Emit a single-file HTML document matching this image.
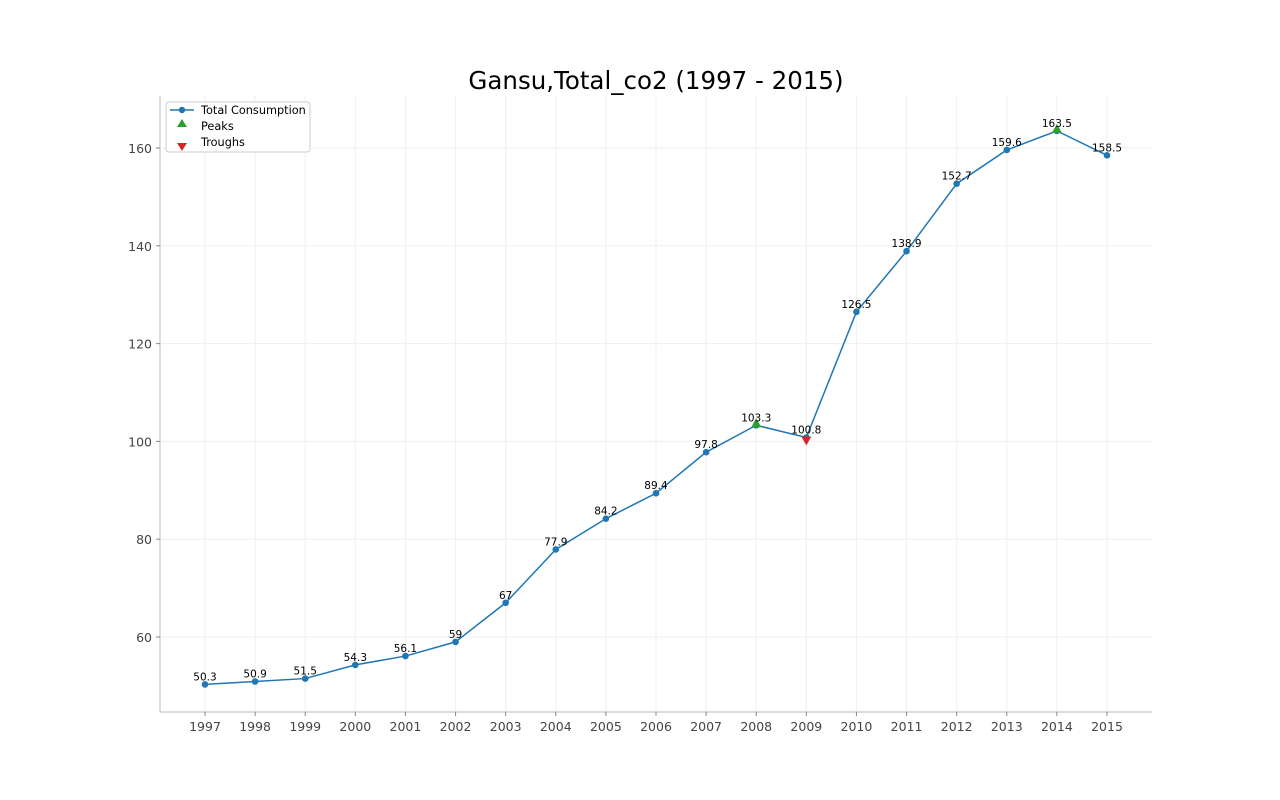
<!DOCTYPE html>
<html><head><meta charset="utf-8"><style>
body{margin:0;background:#fff;}
svg{display:block;font-family:"DejaVu Sans","Liberation Sans",sans-serif;}
</style></head><body>
<svg id="chart" width="1280" height="800">
<text x="656" y="89" text-anchor="middle" font-size="24.5" fill="#000">Gansu,Total_co2 (1997 - 2015)</text>
<g id="grid"></g>
<line x1="160" y1="96" x2="160" y2="712" stroke="#bbb"/>
<line x1="160" y1="712" x2="1152" y2="712" stroke="#bbb"/>
<g id="ticks"></g>
<g id="series"></g>
<g>
<rect x="166" y="102" width="144" height="50" rx="3" fill="#fff" stroke="#ccc"/>
<line x1="170" y1="110" x2="194" y2="110" stroke="#1f77b4" stroke-width="1.5"/>
<circle cx="182" cy="110" r="3.2" fill="#1f77b4"/>
<text x="201" y="114" font-size="11.3">Total Consumption</text>
<polygon points="182,119 187,127 177,127" fill="#2ca02c"/>
<text x="201" y="130" font-size="11.3">Peaks</text>
<polygon points="177,143 187,143 182,151" fill="#d62728"/>
<text x="201" y="146" font-size="11.3">Troughs</text>
</g>
</svg>
<script>
const years=[1997,1998,1999,2000,2001,2002,2003,2004,2005,2006,2007,2008,2009,2010,2011,2012,2013,2014,2015];
const values=[50.3,50.9,51.5,54.3,56.1,59,67,77.9,84.2,89.4,97.8,103.3,100.8,126.5,138.9,152.7,159.6,163.5,158.5];
const labels=["50.3","50.9","51.5","54.3","56.1","59","67","77.9","84.2","89.4","97.8","103.3","100.8","126.5","138.9","152.7","159.6","163.5","158.5"];
const peakYears=[2008,2014];
const troughYears=[2009];
const yTicks=[60,80,100,120,140,160];
const NS="http://www.w3.org/2000/svg";
const x=yr=>205+(yr-1997)*(902/18);
const y=v=>637-(v-60)*4.89;
function mk(tag,attrs,parent){const e=document.createElementNS(NS,tag);for(const k in attrs)e.setAttribute(k,attrs[k]);parent.appendChild(e);return e;}
const grid=document.getElementById('grid'),ticks=document.getElementById('ticks'),ser=document.getElementById('series');
years.forEach(yr=>{
 const g=mk('line',{x1:x(yr),x2:x(yr),y1:96,y2:712,stroke:'#efefef'},grid);
 
 
 mk('line',{x1:x(yr),x2:x(yr),y1:712,y2:716,stroke:'#888'},ticks);
 const t=mk('text',{x:x(yr),y:731,'text-anchor':'middle','font-size':12.5,fill:'#444'},ticks);
 t.textContent=yr;
 
 
});
yTicks.forEach(v=>{
 const g=mk('line',{x1:160,x2:1152,y1:y(v),y2:y(v),stroke:'#efefef'},grid);
 
 
 mk('line',{x1:156,x2:160,y1:y(v),y2:y(v),stroke:'#888'},ticks);
 const t=mk('text',{x:152,y:y(v)+5,'text-anchor':'end','font-size':12.5,fill:'#444'},ticks);
 t.textContent=v;
 
 
});
const line=mk('polyline',{points:years.map((yr,i)=>x(yr)+','+y(values[i])).join(' '),fill:'none',stroke:'#1f77b4','stroke-width':1.5},ser);


years.forEach((yr,i)=>{
 const c=mk('circle',{cx:x(yr),cy:y(values[i]),r:3.3,fill:'#1f77b4'},ser);
 
 
});
peakYears.forEach(yr=>{
 const v=values[years.indexOf(yr)],cx=x(yr),cy=y(v);
 const p=mk('polygon',{points:`${cx},${cy-7} ${cx+5},${cy+2} ${cx-5},${cy+2}`,fill:'#2ca02c'},ser);
 
 
});
troughYears.forEach(yr=>{
 const v=values[years.indexOf(yr)],cx=x(yr),cy=y(v);
 const p=mk('polygon',{points:`${cx-5},${cy-1} ${cx+5},${cy-1} ${cx},${cy+8}`,fill:'#d62728'},ser);
 
 
});
years.forEach((yr,i)=>{
 const t=mk('text',{x:x(yr),y:y(values[i])-4,'text-anchor':'middle','font-size':10.5,fill:'#000'},ser);
 t.textContent=labels[i];
 
 
});
</script>
</body></html>
